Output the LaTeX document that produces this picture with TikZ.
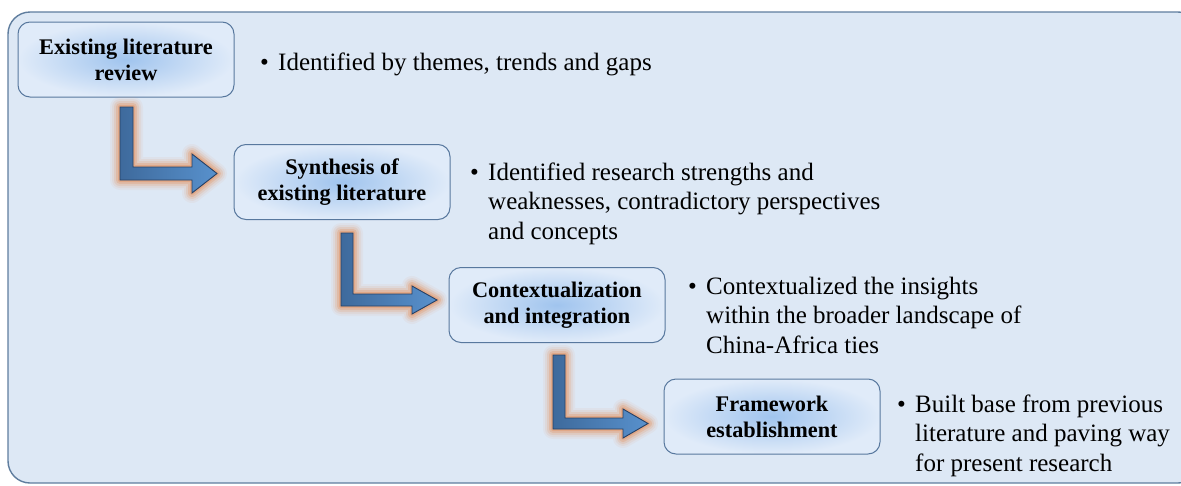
\documentclass[tikz,border=0pt]{standalone}
\usepackage{fontspec}
\setmainfont{Liberation Serif}
\usetikzlibrary{calc}
\definecolor{bgfill}{RGB}{221,232,245}
\definecolor{bgline}{RGB}{95,125,158}
\definecolor{boxin}{RGB}{160,196,238}
\definecolor{boxout}{RGB}{224,235,249}
\definecolor{boxline}{RGB}{88,120,158}
\definecolor{arrdark}{RGB}{62,106,156}
\definecolor{arrlight}{RGB}{88,145,205}
\definecolor{arrline}{RGB}{38,64,100}
\definecolor{glow}{RGB}{228,152,105}
\tikzset{
  stepbox/.style={draw=boxline, line width=1pt, rounded corners=12pt,
    shading=radial, inner color=boxin, outer color=boxout,
    minimum width=216pt, minimum height=75pt, align=center,
    font=\fontsize{22.3}{26}\selectfont\bfseries, text=black},
  bullettext/.style={anchor=base west, inner sep=0pt, font=\fontsize{25}{29.5}\selectfont, text=black},
  glowline/.style={draw=glow, line join=round, line cap=round},
  arrowbody/.style={draw=arrline, line width=0.9pt, line join=miter, left color=arrdark, right color=arrlight}
}
\newcommand{\bulletblock}[1]{\begin{tabular}[t]{@{}p{18pt}@{}l@{}}\textbullet & #1\end{tabular}}
\newcommand{\glowarrow}[1]{%
  \foreach \w/\o in {20/0.08,16/0.12,12/0.2,8/0.32,4/0.5}{
    \draw[glowline, line width=\w pt, opacity=\o] #1;}
  \path[arrowbody] #1;}
\begin{document}
\begin{tikzpicture}[x=1pt,y=-1pt]
\useasboundingbox (0,0) rectangle (1181,485);
\draw[bgline, fill=bgfill, line width=1.4pt, rounded corners=22pt] (8,12) rectangle (1200,483);

\node[stepbox] (b1) at (126,59.5) {Existing literature\\review};
\node[stepbox] (b2) at (342,182) {Synthesis of\\existing literature};
\node[stepbox] (b3) at (557,305) {Contextualization\\and integration};
\node[stepbox] (b4) at (772,416.5) {Framework\\establishment};

\glowarrow{(120,107) -- (133,107) -- (133,167) -- (192,167) -- (192,154) -- (217,173.5) -- (192,193) -- (192,180) -- (120,180) -- cycle}
\glowarrow{(341,233) -- (353,233) -- (353,294) -- (412,294) -- (412,286) -- (437,300) -- (412,314) -- (412,306) -- (341,306) -- cycle}
\glowarrow{(553,355) -- (565,355) -- (565,418) -- (623,418) -- (623,409) -- (648,423.5) -- (623,438) -- (623,429) -- (553,429) -- cycle}

\node[bullettext] (t1) at (260,70) {\bulletblock{Identified by themes, trends and gaps}};
\node[bullettext] (t2) at (470,180) {\bulletblock{Identified research strengths and\\ & weaknesses, contradictory perspectives\\ & and concepts}};
\node[bullettext] (t3) at (688,294) {\bulletblock{Contextualized the insights\\ & within the broader landscape of\\ & China-Africa ties}};
\node[bullettext] (t4) at (897,412) {\bulletblock{Built base from previous\\ & literature and paving way\\ & for present research}};
\end{tikzpicture}
\end{document}
